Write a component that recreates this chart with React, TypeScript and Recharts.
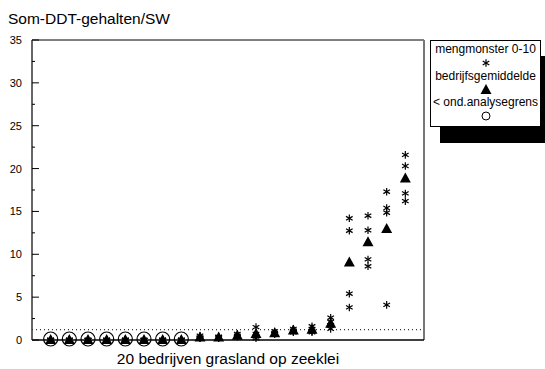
import React from 'react';
import {
  ScatterChart, Scatter, XAxis, YAxis, ReferenceLine, Label,
} from 'recharts';

// 20 bedrijven, 4 mengmonsters per bedrijf (0-10 cm)
const companies = [1, 2, 3, 4, 5, 6, 7, 8, 9, 10, 11, 12, 13, 14, 15, 16, 17, 18, 19, 20];
const samples = [
  [0, 0, 0, 0], [0, 0, 0, 0], [0, 0, 0, 0], [0, 0, 0, 0],
  [0, 0, 0, 0], [0, 0, 0, 0], [0, 0, 0, 0], [0, 0, 0, 0],
  [0.5, 0.3, 0.2, 0.2], [0.4, 0.3, 0.3, 0.2], [0.7, 0.5, 0.4, 0.4], [1.5, 0.7, 0.4, 0.2],
  [1.0, 0.8, 0.7, 0.7], [1.3, 1.1, 1.0, 0.9], [1.6, 1.3, 1.0, 0.9], [2.6, 2.1, 1.7, 1.3],
  [14.2, 12.75, 5.4, 3.8], [14.5, 12.8, 9.4, 8.6], [17.3, 15.4, 14.85, 4.1], [21.6, 20.3, 17.1, 16.2],
];
const means = [0, 0, 0, 0, 0, 0, 0, 0, 0.3, 0.3, 0.5, 0.7, 0.8, 1.1, 1.2, 1.9, 9.05, 11.4, 12.95, 18.85];
const belowLimit = [1, 2, 3, 4, 5, 6, 7, 8];
const analysisLimit = 1.2;
const yTicks = [0, 2.5, 5, 7.5, 10, 12.5, 15, 17.5, 20, 22.5, 25, 27.5, 30, 32.5, 35];

const starData = companies.flatMap((c, i) => samples[i].map((v) => ({ x: c, y: v })));
const meanData = companies.map((c, i) => ({ x: c, y: means[i] }));
const limitData = belowLimit.map((c) => ({ x: c, y: 0 }));

const FONT = '"Liberation Sans", Arial, Helvetica, sans-serif';
const PLOT_LEFT = 32;

const Star = ({ cx, cy }: any) => {
  const r = 3.8;
  const dx = r * 0.87;
  const dy = r * 0.5;
  return (
    <g stroke="#000" strokeWidth={1.2}>
      <line x1={cx} y1={cy - r} x2={cx} y2={cy + r} />
      <line x1={cx - dx} y1={cy - dy} x2={cx + dx} y2={cy + dy} />
      <line x1={cx - dx} y1={cy + dy} x2={cx + dx} y2={cy - dy} />
    </g>
  );
};

const Triangle = ({ cx, cy }: any) => (
  <polygon
    points={`${cx},${cy - 6} ${cx - 5.5},${cy + 4} ${cx + 5.5},${cy + 4}`}
    fill="#000"
  />
);

const OpenCircle = ({ cx, cy }: any) => (
  <circle cx={cx} cy={cy - 1} r={7} fill="none" stroke="#000" strokeWidth={1.2} />
);

const YTick = ({ y, payload }: any) => {
  const major = payload.value % 5 === 0;
  return (
    <g>
      <line x1={PLOT_LEFT} y1={y} x2={PLOT_LEFT + (major ? 7 : 3)} y2={y} stroke="#000" strokeWidth={1} />
      {major && (
        <text x={PLOT_LEFT - 10} y={y} dy={4} textAnchor="end" fontSize={11} fill="#000" fontFamily={FONT}>
          {payload.value}
        </text>
      )}
    </g>
  );
};

const LegendBox = () => (
  <div
    style={{
      position: 'absolute',
      left: 430,
      top: 40,
      width: 111,
      height: 87,
      background: '#fff',
      border: '1px solid #000',
      boxShadow: '10px 16px 0 #000',
      fontFamily: FONT,
      fontSize: 12,
      textAlign: 'center',
      lineHeight: '13.5px',
      paddingTop: 2,
      boxSizing: 'border-box',
      whiteSpace: 'nowrap',
    }}
  >
    <div>mengmonster 0-10</div>
    <svg width={10} height={13} style={{ display: 'block', margin: '0 auto' }}>
      <Star cx={5} cy={6} />
    </svg>
    <div>bedrijfsgemiddelde</div>
    <svg width={12} height={13} style={{ display: 'block', margin: '0 auto' }}>
      <Triangle cx={6} cy={7} />
    </svg>
    <div>&lt; ond.analysegrens</div>
    <svg width={12} height={12} style={{ display: 'block', margin: '0 auto' }}>
      <circle cx={6} cy={6} r={4} fill="none" stroke="#000" strokeWidth={1} />
    </svg>
  </div>
);

export default function App() {
  return (
    <div style={{ position: 'absolute', left: 0, top: 0, width: 545, height: 369, background: '#fff', overflow: 'hidden' }}>
      <div
        style={{
          position: 'absolute', left: 8, top: 10, fontFamily: FONT, fontSize: 15.5, color: '#000', whiteSpace: 'nowrap',
        }}
      >
        Som-DDT-gehalten/SW
      </div>
      <ScatterChart width={545} height={369} margin={{ top: 40, right: 121, bottom: 0, left: 0 }}>
        <XAxis
          type="number"
          dataKey="x"
          domain={[0, 21]}
          ticks={[]}
          tick={false}
          tickLine={false}
          axisLine={{ stroke: '#000', strokeWidth: 1.5 }}
          height={29}
        >
          <Label value="20 bedrijven grasland op zeeklei" position="insideBottom" offset={5} fontSize={15.5} fill="#000" fontFamily={FONT} />
        </XAxis>
        <YAxis
          type="number"
          dataKey="y"
          domain={[0, 35]}
          ticks={yTicks}
          interval={0}
          width={32}
          tickLine={false}
          tick={<YTick />}
          axisLine={{ stroke: '#333', strokeWidth: 1.5 }}
        />
        <ReferenceLine y={35} stroke="#000" strokeWidth={1} />
        <ReferenceLine x={21} stroke="#777" strokeWidth={2} />
        <ReferenceLine y={analysisLimit} stroke="#000" strokeWidth={1} strokeDasharray="1 3" />
        <Scatter data={limitData} shape={<OpenCircle />} isAnimationActive={false} legendType="none" />
        <Scatter data={starData} shape={<Star />} isAnimationActive={false} legendType="none" />
        <Scatter data={meanData} shape={<Triangle />} isAnimationActive={false} legendType="none" />
      </ScatterChart>
      <LegendBox />
    </div>
  );
}
